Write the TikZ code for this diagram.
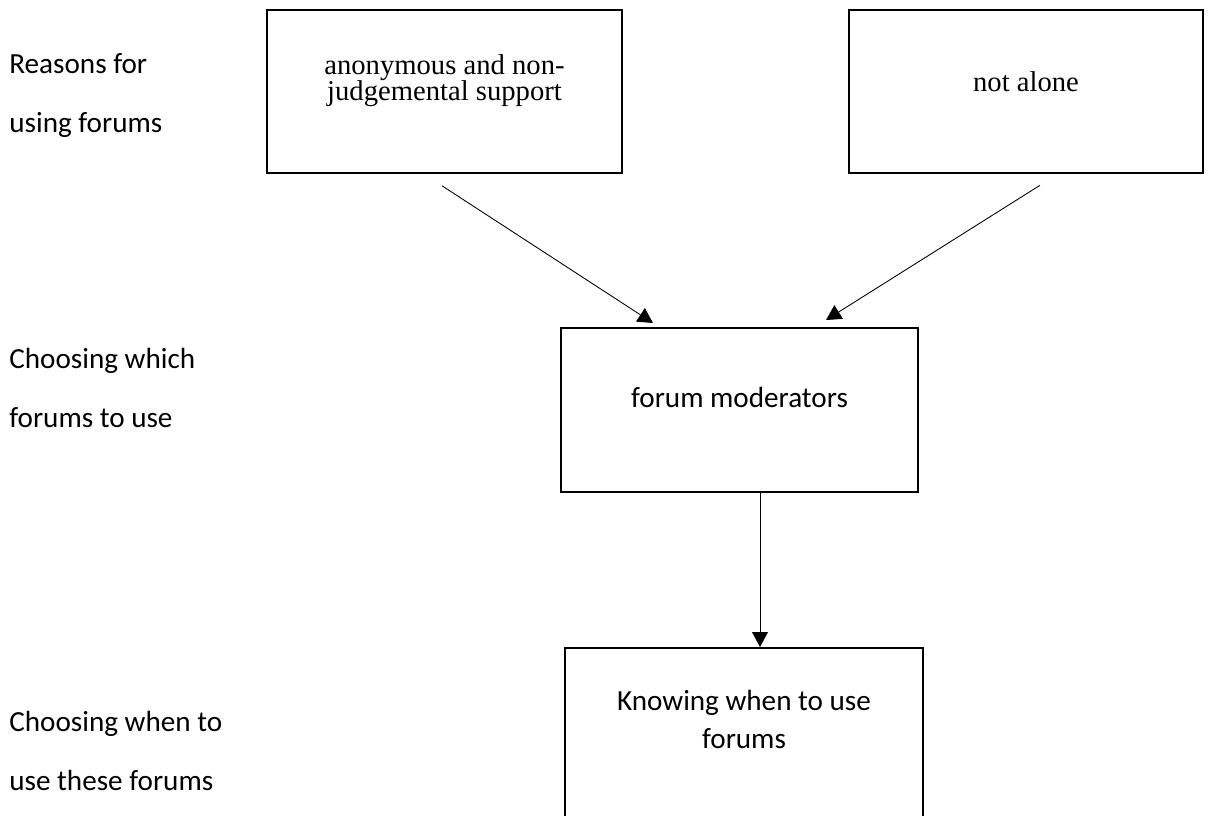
\documentclass[tikz,border=0pt]{standalone}
\usepackage{fontspec}
\setmainfont{Carlito}
\newfontfamily\timesfont{Liberation Serif}
\usetikzlibrary{arrows.meta}

\begin{document}
\begin{tikzpicture}[
  box/.style={draw, line width=1.3pt, inner sep=0pt, align=center, anchor=north,
    execute at begin node={\spaceskip=\fontdimen2\font\relax\lineskiplimit=-10pt\relax}},
  side/.style={inner sep=0pt, anchor=base west, text width=5cm, align=left, font=\fontsize{16.6}{34}\selectfont,
    execute at begin node={\spaceskip=\fontdimen2\font\relax}},
  arr/.style={-{Triangle[length=0.3cm, width=0.32cm]}, line width=0.5pt}
]

%\draw (0,0) grid (24,-16);
\useasboundingbox (0,0) rectangle (24.3,-16.3);

\node (reasons) [side] at (0.18,-1.46) {Reasons for\\using forums};
\node (which) [side] at (0.18,-7.36) {Choosing which\\forums to use};
\node (when) [side] at (0.18,-14.62) {Choosing when to\\use these forums};

\node (anon) [box, text width=7.1cm, text height=1.28cm, text depth=1.97cm, font=\timesfont\fontsize{16.3}{15.2}\selectfont] at (8.89,-0.18) {anonymous and non-\\judgemental support};
\node (alone) [box, text width=7.08cm, text height=1.62cm, text depth=1.64cm, font=\timesfont\fontsize{16.3}{19}\selectfont] at (20.52,-0.18) {not alone};

\node (mod) [box, text width=7.14cm, text height=1.58cm, text depth=1.70cm, font=\fontsize{16.6}{20}\selectfont] at (14.79,-6.54) {forum moderators};
\node (know) [box, text width=7.16cm, text height=1.25cm, text depth=2.51cm, font=\fontsize{16.6}{21.6}\selectfont] at (14.88,-12.94) {Knowing when to use\\forums};

\draw [arr] ([xshift=-0.05cm, yshift=-0.24cm]anon.south) -- ([xshift=-1.73cm, yshift=0.08cm]mod.north);
\draw [arr] ([xshift=0.28cm, yshift=-0.22cm]alone.south) -- ([xshift=1.73cm, yshift=0.14cm]mod.north);
\draw [arr] ([xshift=0.41cm]mod.south) -- ([xshift=0.41cm]mod.south |- know.north);

\end{tikzpicture}
\end{document}
